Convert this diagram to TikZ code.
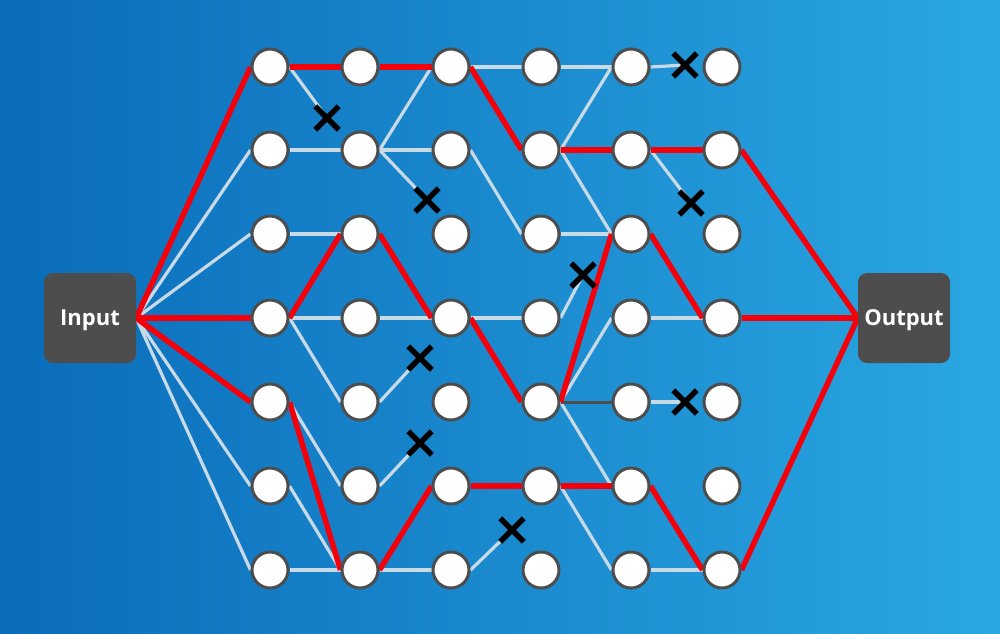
\documentclass[tikz,border=0pt]{standalone}
\usepackage{fontspec}
\setmainfont{Open Sans}
\usetikzlibrary{shapes.misc}
\pgfdeclarelayer{bg}\pgfdeclarelayer{edges}\pgfsetlayers{bg,edges,main}
\definecolor{bgL}{RGB}{10,108,186}
\definecolor{bgR}{RGB}{42,167,226}
\definecolor{redA}{RGB}{245,0,10}
\definecolor{lite}{RGB}{200,218,230}
\definecolor{dk}{RGB}{77,77,77}
\tikzset{
 nd/.style={circle,draw=dk,line width=3pt,fill=white,minimum size=36pt,inner sep=0pt},
 boxnode/.style={rounded corners=9pt,fill=dk,minimum width=92pt,minimum height=90pt,inner sep=0pt,text=white,text depth=0pt,font=\bfseries\fontsize{22}{24}\selectfont},
 lt/.style={draw=lite,line width=3.2pt},
 rd/.style={draw=redA,line width=5.5pt},
 dg/.style={draw=dk,line width=3pt},
 xm/.style={cross out,draw=black,line width=5.5pt,minimum size=18pt,inner sep=0pt},
}
\begin{document}
\begin{tikzpicture}[x=1pt,y=-1pt]
\begin{pgfonlayer}{bg}
\shade[left color=bgL,right color=bgR] (0,0) rectangle (1000,633);
\end{pgfonlayer}
\useasboundingbox (0,0) rectangle (1000,633);
\node[boxnode] (in) at (90,318) {Input};
\node[boxnode] (out) at (904,318) {Output};
\foreach \c/\x in {1/270,2/360,3/451,4/541,5/631,6/722}{
 \foreach \r/\y in {1/67,2/150,3/234,4/318,5/402,6/486,7/570}{
  \node[nd] (n\c\r) at (\x,\y) {};
 }
}
\node[xm] (x1) at (327,118) {};
\node[xm] (x2) at (427,200) {};
\node[xm] (x3) at (420,358) {};
\node[xm] (x4) at (420,443) {};
\node[xm] (x5) at (512,530) {};
\node[xm] (x6) at (583,275) {};
\node[xm] (x7) at (685,65) {};
\node[xm] (x8) at (691,203) {};
\node[xm] (x9) at (685,402) {};
\begin{pgfonlayer}{edges}
% light edges
\foreach \r in {2,3,6,7} \draw[lt] (in.east) -- (n1\r.west);
\foreach \a/\b in {12/22,13/23,14/24,14/25,15/26,16/27,17/27,
  22/31,22/32,24/34,27/37,
  31/41,32/43,34/44,
  41/51,42/51,42/53,43/53,45/54,45/56,46/57,
  54/64,57/67}
  \draw[lt] (n\a.east) -- (n\b.west);
\foreach \a/\b in {11/1,22/2,25/3,26/4,37/5,44/6,51/7,52/8,55/9}
  \draw[lt] (n\a.east) -- (x\b.center);
% dark edge
\draw[dg] (n45.east) -- (n55.west);
% red edges
\foreach \r in {1,4,5} \draw[rd] (in.east) -- (n1\r.west);
\foreach \a/\b in {11/21,14/23,15/27,21/31,23/34,27/36,
  31/42,34/45,36/46,42/52,45/53,46/56,
  52/62,53/64,56/67}
  \draw[rd] (n\a.east) -- (n\b.west);
\foreach \r in {2,4,7} \draw[rd] (n6\r.east) -- (out.west);
\end{pgfonlayer}
\end{tikzpicture}
\end{document}
